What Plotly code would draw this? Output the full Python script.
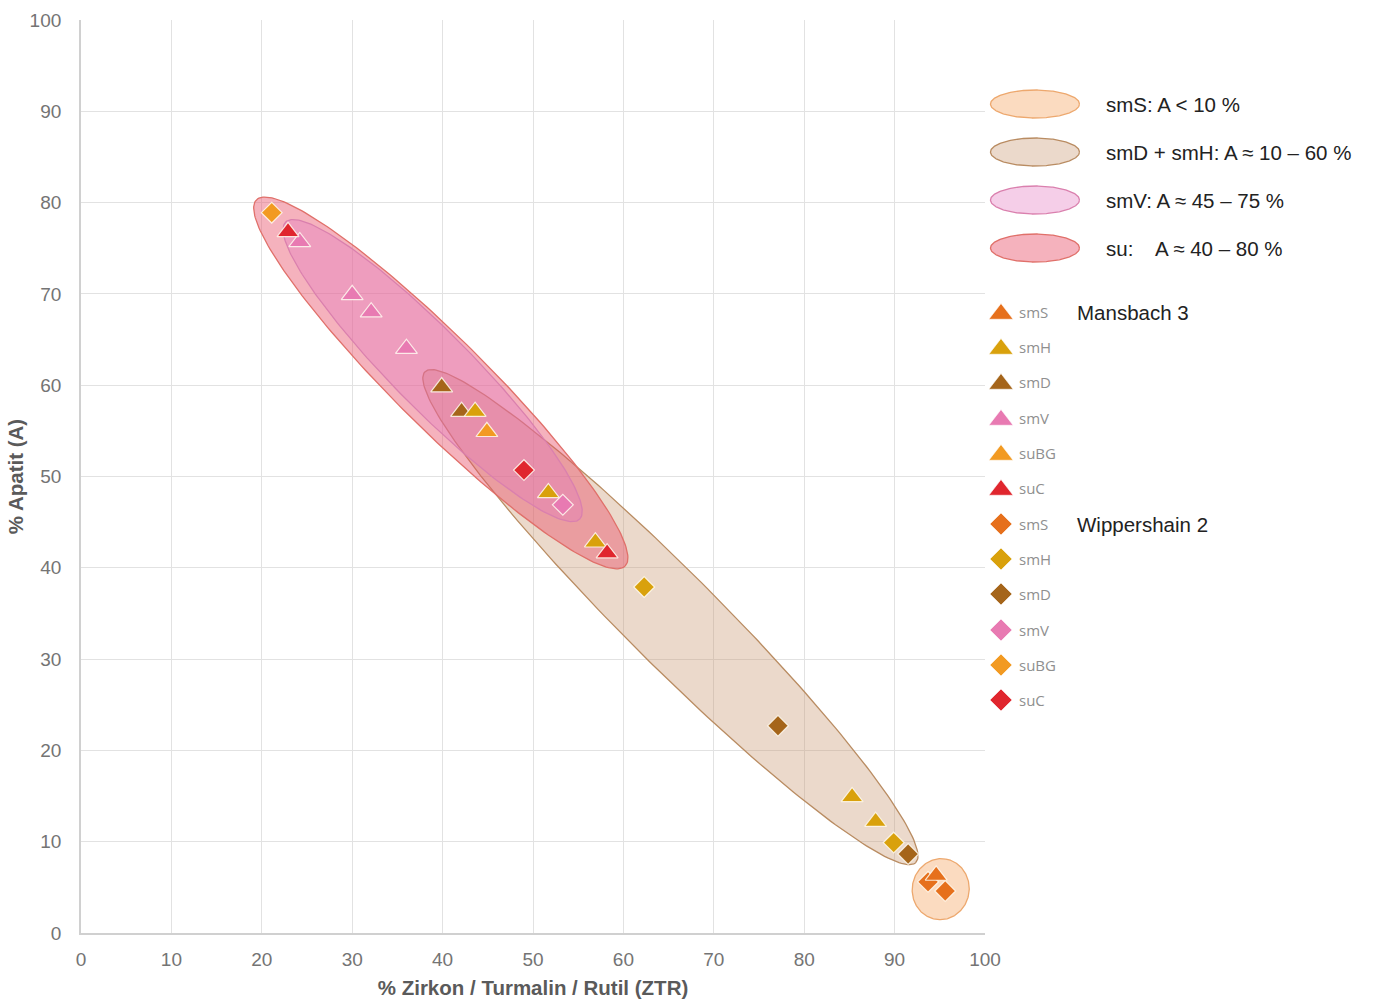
import numpy as np
import plotly.graph_objects as go

# ---------------- data ----------------
# x = % Zirkon/Turmalin/Rutil (ZTR), y = % Apatit (A)
# Mansbach 3 (triangles)
m3_smS_x = [94.6]
m3_smS_y = [6.3]
m3_smH_x = [43.6, 51.7, 56.9, 85.3, 87.9]
m3_smH_y = [57.1, 48.2, 42.8, 14.9, 12.2]
m3_smD_x = [39.9, 42.1]
m3_smD_y = [59.8, 57.1]
m3_smV_x = [24.2, 30.0, 32.1, 36.0]
m3_smV_y = [75.7, 69.9, 68.0, 64.0]
m3_suBG_x = [44.9]
m3_suBG_y = [54.9]
m3_suC_x = [22.9, 58.2]
m3_suC_y = [76.8, 41.6]

# Wippershain 2 (diamonds)
w2_smS_x = [93.7, 95.6]
w2_smS_y = [5.6, 4.6]
w2_smH_x = [62.3, 89.9]
w2_smH_y = [37.9, 9.9]
w2_smD_x = [77.1, 91.5]
w2_smD_y = [22.7, 8.65]
w2_smV_x = [53.3]
w2_smV_y = [46.9]
w2_suBG_x = [21.1]
w2_suBG_y = [78.9]
w2_suC_x = [49.0]
w2_suC_y = [50.7]

facies = ["smS", "smH", "smD", "smV", "suBG", "suC"]
facies_colors = ["#E6701C", "#D9A10C", "#A5651A", "#E87AB2", "#F29A22", "#E0262E"]

# Zone ellipses (centre, semi-axes in data units, rotation in degrees)
zone_labels = ["smS: A < 10 %", "smD + smH: A ≈ 10 – 60 %",
               "smV: A ≈ 45 – 75 %", "su:\u00a0\u00a0\u00a0 A ≈ 40 – 80 %"]
zone_cx = [95.1, 65.2, 38.9, 39.8]
zone_cy = [4.8, 34.6, 61.6, 60.25]
zone_a = [3.35, 38.2, 23.0, 28.6]
zone_b = [3.15, 5.1, 4.3, 5.0]
zone_angle = [80, -44.7, -45.0, -44.5]
zone_fill = ["rgba(245,160,90,0.38)", "rgba(200,150,110,0.36)",
             "rgba(228,120,190,0.36)", "rgba(232,80,105,0.44)"]
zone_line = ["#EDA86E", "#B98C62", "#DA80AE", "#E0706A"]

x_ticks = list(range(0, 101, 10))
y_ticks = list(range(0, 101, 10))


def ellipse(cx, cy, a, b, ang, n=240):
    t = np.linspace(0, 2 * np.pi, n)
    th = np.deg2rad(ang)
    x = cx + a * np.cos(t) * np.cos(th) - b * np.sin(t) * np.sin(th)
    y = cy + a * np.cos(t) * np.sin(th) + b * np.sin(t) * np.cos(th)
    return x, y


fig = go.Figure()

# zone ellipses: draw beige, su, smV, smS
for i in [1, 3, 2, 0]:
    ex, ey = ellipse(zone_cx[i], zone_cy[i], zone_a[i], zone_b[i], zone_angle[i])
    fig.add_trace(go.Scatter(x=ex, y=ey, mode="lines", fill="toself",
                             fillcolor=zone_fill[i],
                             line=dict(color=zone_line[i], width=1.3),
                             hoverinfo="skip", showlegend=False))

w2_x = [w2_smS_x, w2_smH_x, w2_smD_x, w2_smV_x, w2_suBG_x, w2_suC_x]
w2_y = [w2_smS_y, w2_smH_y, w2_smD_y, w2_smV_y, w2_suBG_y, w2_suC_y]
m3_x = [m3_smS_x, m3_smH_x, m3_smD_x, m3_smV_x, m3_suBG_x, m3_suC_x]
m3_y = [m3_smS_y, m3_smH_y, m3_smD_y, m3_smV_y, m3_suBG_y, m3_suC_y]

outline = dict(color="rgba(255,250,240,0.85)", width=1.2)
for xs, ys, name, col in zip(w2_x, w2_y, facies, facies_colors):
    fig.add_trace(go.Scatter(x=xs, y=ys, mode="markers", name="Wippershain 2 " + name,
                             marker=dict(symbol="diamond", size=16, color=col, line=outline),
                             showlegend=False))
for idx in [0, 2, 1, 3, 4, 5]:
    fig.add_trace(go.Scatter(x=m3_x[idx], y=m3_y[idx], mode="markers",
                             name="Mansbach 3 " + facies[idx],
                             marker=dict(symbol="triangle-up", size=19,
                                         color=facies_colors[idx], line=outline),
                             showlegend=False))

# ---------------- manual legend on an overlay axis (pixel-like coords) ----------------
LEG_FONT = "Liberation Sans, Arial, sans-serif"
leg_ell_y = [104, 152, 200, 248]
for i in range(4):
    ex, ey = ellipse(1035, leg_ell_y[i], 44.5, 14, 0)
    fig.add_trace(go.Scatter(x=ex, y=ey, xaxis="x2", yaxis="y2", mode="lines",
                             fill="toself", fillcolor=zone_fill[i],
                             line=dict(color=zone_line[i], width=1.3),
                             hoverinfo="skip", showlegend=False))
    fig.add_annotation(x=1104, y=leg_ell_y[i], xref="x2", yref="y2", text=zone_labels[i],
                       showarrow=False, xanchor="left", yanchor="middle",
                       font=dict(size=20.5, color="#222222", family=LEG_FONT))

leg_m_y = [312, 347, 382, 418, 453, 488, 524, 559, 594, 630, 665, 700]
for k in range(12):
    f = k % 6
    sym = "triangle-up" if k < 6 else "diamond"
    fig.add_trace(go.Scatter(x=[1001], y=[leg_m_y[k] + (2 if k < 6 else 0)],
                             xaxis="x2", yaxis="y2", mode="markers",
                             marker=dict(symbol=sym, size=21 if k < 6 else 17,
                                         color=facies_colors[f],
                                         line=dict(color="rgba(255,255,255,0.6)", width=1)),
                             hoverinfo="skip", showlegend=False, cliponaxis=False))
    fig.add_annotation(x=1017, y=leg_m_y[k], xref="x2", yref="y2", text=facies[f],
                       showarrow=False, xanchor="left", yanchor="middle",
                       font=dict(size=15, color="#8f8f8f", family="Open Sans, Liberation Sans"))

for txt, yy in [("Mansbach 3", leg_m_y[0]), ("Wippershain 2", leg_m_y[6])]:
    fig.add_annotation(x=1075, y=yy, xref="x2", yref="y2", text=txt, showarrow=False,
                       xanchor="left", yanchor="middle",
                       font=dict(size=20.5, color="#222222", family=LEG_FONT))

W, H = 1376, 1001
ml, mr, mt, mb = 81, 10, 20, 68
pw = W - ml - mr
main_frac = (985 - 81) / pw

TICK_FONT = dict(size=19, color="#747474", family="Liberation Sans, Arial, sans-serif")
TITLE_FONT = dict(size=20.5, color="#5a5a5a", weight="bold",
                  family="Liberation Sans Narrow, Liberation Sans, Arial, sans-serif")

fig.update_layout(
    width=W, height=H,
    margin=dict(l=ml, r=mr, t=mt, b=mb, autoexpand=False),
    paper_bgcolor="white", plot_bgcolor="white",
    showlegend=False,
    xaxis=dict(domain=[0, main_frac], range=[0, 100], tickvals=x_ticks,
               showgrid=True, gridcolor="#e2e2e2", gridwidth=1,
               showline=True, linecolor="#d0d0d0", linewidth=1.8, zeroline=False,
               ticks="", ticklabelstandoff=8, tickfont=TICK_FONT, automargin=False,
               title=dict(text="% Zirkon / Turmalin / Rutil (ZTR)", standoff=12,
                          font=TITLE_FONT)),
    yaxis=dict(domain=[0, 1], range=[0, 100], tickvals=y_ticks,
               showgrid=True, gridcolor="#e2e2e2", gridwidth=1,
               showline=True, linecolor="#d0d0d0", linewidth=1.8, zeroline=False,
               ticks="", ticklabelstandoff=14, tickfont=TICK_FONT, automargin=False,
               title=dict(text="% Apatit (A)", standoff=0, font=TITLE_FONT)),
    xaxis2=dict(domain=[main_frac, 1], range=[985, W - mr], visible=False,
                fixedrange=True, automargin=False),
    yaxis2=dict(domain=[0, 1], range=[933, 20], visible=False, fixedrange=True,
                anchor="x2", automargin=False),
)

fig.write_html("out.html")
